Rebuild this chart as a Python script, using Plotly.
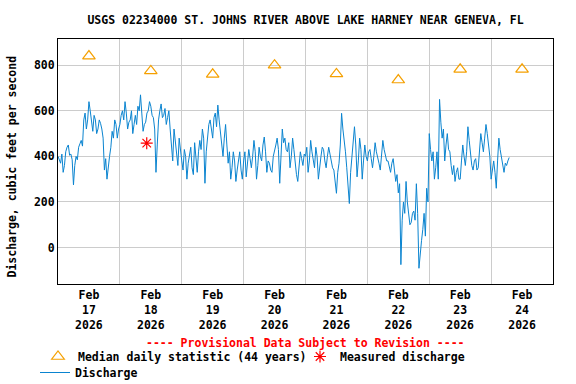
import plotly.graph_objects as go
import pandas as pd

# ---- data (30-minute readings) ----
start = "2026-02-17 00:00"
discharge = [
    # Feb 17
    400, 380, 370, 410, 330, 360, 420, 440, 450, 405, 410, 385,
    275, 360, 400, 385, 440, 455, 470, 445, 560, 590, 520, 560,
    640, 600, 540, 510, 580, 560, 500, 520, 560, 545, 520, 480,
    340, 390, 300, 360, 400, 440, 510, 480, 560, 540, 480, 520,
    # Feb 18
    540, 580, 600, 560, 640, 590, 520, 550, 560, 600, 500, 540,
    580, 540, 620, 600, 670, 590, 510, 540, 550, 590, 600, 640,
    620, 580, 570, 520, 330, 450, 560, 600, 630, 570, 580, 610,
    540, 570, 600, 520, 450, 380, 520, 470, 400, 360, 480, 420,
    # Feb 19
    380, 340, 430, 400, 300, 370, 400, 440, 350, 320, 460, 400,
    330, 420, 470, 430, 520, 480, 282, 420, 500, 540, 560, 520,
    480, 570, 590, 530, 625, 560, 500, 460, 400, 480, 540, 450,
    370, 420, 300, 350, 420, 380, 290, 340, 380, 420, 340, 300,
    # Feb 20
    380, 420, 310, 360, 430, 390, 350, 400, 470, 420, 300, 360,
    440, 400, 380, 450, 485, 420, 330, 380, 370, 340, 330, 400,
    420, 450, 480, 430, 282, 400, 520, 460, 480, 430, 420, 460,
    350, 400, 480, 430, 370, 320, 290, 380, 420, 390, 360, 410,
    # Feb 21
    400, 440, 330, 380, 470, 420, 390, 350, 440, 400, 300, 370,
    400, 440, 430, 380, 350, 400, 440, 410, 380, 350, 340, 300,
    238, 330, 370, 450, 589, 520, 480, 420, 350, 280, 193, 330,
    400, 460, 530, 450, 310, 380, 480, 430, 300, 380, 450, 400,
    # Feb 22
    380, 420, 430, 390, 350, 400, 460, 420, 400, 370, 340, 400,
    470, 430, 410, 380, 380, 350, 330, 370, 390, 340, 290, 320,
    240, 280, -75, 120, 200, 150, 290, 200, 150, 100, 110, 150,
    160, 120, 280, 150, -91, -20, 30, 80, 150, 50, 260, 200,
    # Feb 23
    500, 430, 380, 420, 300, 350, 420, 300, 650, 550, 480, 520,
    380, 450, 500, 430, 420, 360, 320, 360, 290, 330, 350, 300,
    300, 380, 450, 400, 360, 420, 530, 470, 400, 360, 340, 380,
    390, 340, 350, 420, 500, 460, 420, 480, 540, 500, 450, 400,
    # Feb 24
    300, 340, 380, 330, 260, 380, 480, 430, 400, 360, 330, 370,
    360, 380, 395,
]
discharge_times = pd.date_range(start, periods=len(discharge), freq="30min")

median_dates = ["2026-02-17 12:00", "2026-02-18 12:00", "2026-02-19 12:00",
                "2026-02-20 12:00", "2026-02-21 12:00", "2026-02-22 12:00",
                "2026-02-23 12:00", "2026-02-24 12:00"]
median_values = [840, 775, 760, 800, 762, 735, 782, 782]

measured_dates = ["2026-02-18 10:25"]
measured_values = [458]

tick_dates = median_dates
tick_labels = ["Feb<br>17<br>2026", "Feb<br>18<br>2026", "Feb<br>19<br>2026",
               "Feb<br>20<br>2026", "Feb<br>21<br>2026", "Feb<br>22<br>2026",
               "Feb<br>23<br>2026", "Feb<br>24<br>2026"]
grid_dates = ["2026-02-18", "2026-02-19", "2026-02-20", "2026-02-21",
              "2026-02-22", "2026-02-23", "2026-02-24"]
y_ticks = [0, 200, 400, 600, 800]

FONT = "DejaVu Sans Mono"
fsize = 11.5

fig = go.Figure()
fig.add_trace(go.Scatter(
    x=discharge_times, y=discharge, mode="lines", name="<b>Discharge</b>",
    line=dict(color="#0a84d0", width=1), legend="legend3", showlegend=True))
fig.add_trace(go.Scatter(
    x=median_dates, y=median_values, mode="markers",
    name="<b>Median daily statistic (44 years)</b>",
    marker=dict(symbol="triangle-up-open", size=11, color="#f5a000",
                line=dict(width=1.2, color="#f5a000")), legend="legend",
    showlegend=True))
fig.add_trace(go.Scatter(
    x=measured_dates, y=measured_values, mode="markers",
    name="<b>Measured discharge</b>",
    marker=dict(symbol="asterisk-open", size=10, color="#ff0000",
                line=dict(width=1.2, color="#ff0000")), legend="legend2",
    showlegend=True))

legend_common = dict(orientation="h", xref="container", yref="container",
                     xanchor="left", yanchor="middle",
                     font=dict(family=FONT, size=fsize, color="black"),
                     bgcolor="rgba(0,0,0,0)", borderwidth=0)

PLOT_LEFT, PLOT_RIGHT = 58, 553
PLOT_TOP, PLOT_BOTTOM = 39, 284
def paper_y(px):
    return (PLOT_BOTTOM - px) / (PLOT_BOTTOM - PLOT_TOP)
def paper_x(px):
    return (px - PLOT_LEFT) / (PLOT_RIGHT - PLOT_LEFT)

fig.update_layout(
    width=576, height=384,
    showlegend=True,
    margin=dict(l=PLOT_LEFT, r=576 - PLOT_RIGHT, t=PLOT_TOP, b=384 - PLOT_BOTTOM,
                autoexpand=False),
    paper_bgcolor="white", plot_bgcolor="white",
    font=dict(family=FONT, size=fsize, color="black"),
    title=dict(text="<b>USGS 02234000 ST. JOHNS RIVER ABOVE LAKE HARNEY NEAR GENEVA, FL</b>",
               x=0.5, xref="paper", y=1 - 20 / 384, yanchor="middle",
               font=dict(family=FONT, size=fsize, color="black")),
    xaxis=dict(type="date", range=["2026-02-17", "2026-02-25"],
               tickvals=tick_dates, ticktext=["<b>" + t + "</b>" for t in tick_labels],
               tickangle=0, showgrid=False, ticks="", zeroline=False,
               showline=True, mirror=True, linecolor="black", linewidth=1,
               automargin=False,
               minor=dict(tickvals=grid_dates, showgrid=True, gridcolor="#cccccc",
                          gridwidth=1, ticks=""),
               tickfont=dict(family=FONT, size=fsize, color="black")),
    yaxis=dict(range=[-160, 915], tickvals=y_ticks,
               ticktext=["<b>%d</b>" % v for v in y_ticks],
               showgrid=True, gridcolor="#cccccc", gridwidth=1, zeroline=False,
               ticks="", showline=True, mirror=True, linecolor="black", linewidth=1,
               automargin=False,
               tickfont=dict(family=FONT, size=fsize, color="black")),
    legend=dict(x=38 / 576, y=1 - 356.5 / 384, **legend_common),
    legend2=dict(x=300 / 576, y=1 - 356.5 / 384, **legend_common),
    legend3=dict(x=35 / 576, y=1 - 372.5 / 384, **legend_common),
    annotations=[
        dict(text="<b>---- Provisional Data Subject to Revision ----</b>",
             xref="paper", yref="paper", x=0.5, y=paper_y(343),
             xanchor="center", yanchor="middle", showarrow=False,
             font=dict(family=FONT, size=fsize, color="#ff0000")),
        dict(text="<b>Discharge, cubic feet per second</b>",
             xref="paper", yref="paper", x=paper_x(11.5), y=paper_y(167),
             xanchor="center", yanchor="middle", textangle=-90, showarrow=False,
             font=dict(family=FONT, size=fsize, color="black")),
    ],
)

fig.write_html("out.html", post_script="document.body.style.margin='0px';",
               config={"displayModeBar": False})
